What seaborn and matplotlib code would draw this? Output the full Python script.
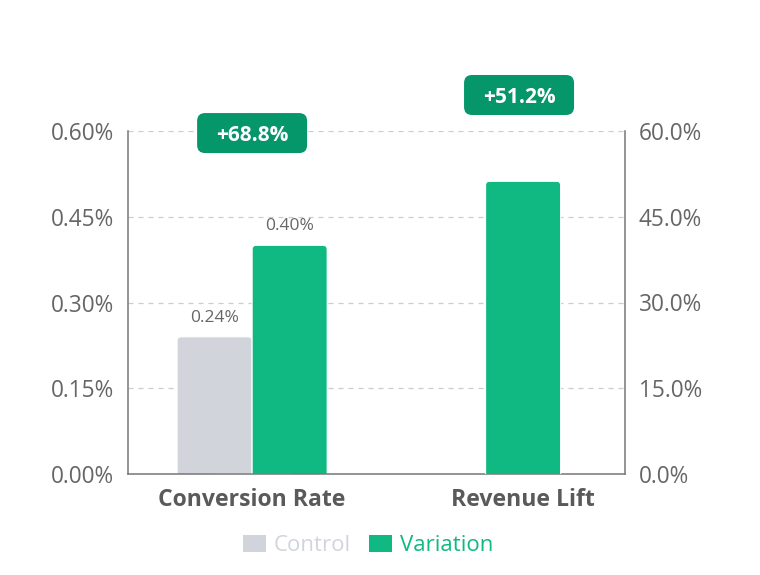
import matplotlib
matplotlib.use("Agg")
import matplotlib.pyplot as plt
from matplotlib.patches import Rectangle, FancyBboxPatch, Patch
from matplotlib.ticker import FuncFormatter, FixedLocator
from matplotlib.transforms import IdentityTransform
import seaborn as sns
import pandas as pd

# ---- data ----
categories = ["Conversion Rate", "Revenue Lift"]
groups = ["Control", "Variation"]
control_rate = [0.24, 0.0]        # % (left axis)
variation_rate = [0.40, 0.0]      # % (left axis)
revenue_lift = [0.0, 51.2]        # % (right axis)
rate_labels = ["0.24%", "0.40%"]
lift_badges = ["+68.8%", "+51.2%"]
left_ticks = [0.0, 0.15, 0.30, 0.45, 0.60]
right_ticks = [0.0, 15.0, 30.0, 45.0, 60.0]

GREY = "#d1d5db"
GREEN = "#10b981"
DARK_GREEN = "#059669"
TXT = "#666666"

sns.set_theme(style="white")
plt.rcParams["font.family"] = ["Open Sans", "DejaVu Sans"]

W, H = 760, 575
fig = plt.figure(figsize=(W / 100, H / 100), dpi=100)
ax = fig.add_axes([128 / W, 101 / H, 497 / W, 343 / H])
ax2 = ax.twinx()

df = pd.DataFrame({
    "category": categories * 2,
    "group": [groups[0]] * 2 + [groups[1]] * 2,
    "value": control_rate + variation_rate,
})
sns.barplot(data=df, x="category", y="value", hue="group", order=categories,
            hue_order=groups, palette=[GREY, GREEN], width=0.554, dodge=True,
            ax=ax, legend=False, edgecolor="white", linewidth=0.8, saturation=1)
sns.barplot(x=categories, y=revenue_lift, order=categories, color=GREEN,
            width=0.277, ax=ax2, edgecolor="white", linewidth=0.8, saturation=1)

xlim = (-0.458, 1.376)
ax.set_xlim(*xlim)
ax.set_ylim(0, 0.60)
ax2.set_ylim(0, 60)

# rounded top corners
def round_bars(a, ymax):
    rx = 4 * (xlim[1] - xlim[0]) / 497
    ry = 4 * ymax / 343
    for p in list(a.patches):
        if isinstance(p, Rectangle) and p.get_height() > 0:
            x, y, w, h = p.get_x(), p.get_y(), p.get_width(), p.get_height()
            fc = p.get_facecolor()
            p.remove()
            fb = FancyBboxPatch((x, y - ry), w, h + ry,
                                boxstyle=f"round,pad=0,rounding_size={rx}",
                                mutation_aspect=ry / rx, facecolor=fc,
                                edgecolor="white", linewidth=0.8, zorder=2)
            a.add_patch(fb)

round_bars(ax, 0.60)
round_bars(ax2, 60)

# grid
ax.yaxis.set_major_locator(FixedLocator(left_ticks))
ax2.yaxis.set_major_locator(FixedLocator(right_ticks))
ax.set_axisbelow(True)
ax.grid(axis="y", color="#cccccc", linestyle=(0, (4, 4)), linewidth=0.9)
ax.grid(axis="x", visible=False)
ax2.grid(False)

ax.yaxis.set_major_formatter(FuncFormatter(lambda v, p: f"{v:.2f}%"))
ax2.yaxis.set_major_formatter(FuncFormatter(lambda v, p: f"{v:.1f}%"))

for a in (ax, ax2):
    a.set_xlabel("")
    a.set_ylabel("")
    a.tick_params(axis="y", length=0, labelsize=16.3, labelcolor=TXT, pad=10)
    for s in a.spines.values():
        s.set_visible(False)

for a, side in ((ax, "left"), (ax2, "right"), (ax, "bottom")):
    a.spines[side].set_visible(True)
    a.spines[side].set_color("#777777")
    a.spines[side].set_linewidth(1.1)

ax.set_xticks(range(len(categories)))
ax.set_xticklabels(categories, fontsize=16.6, fontweight="bold", color="#5a5a5a")
ax.tick_params(axis="x", length=0, pad=10)
ax2.tick_params(axis="x", labelbottom=False, length=0)

# value labels above the rate bars
offsets = [-0.1385, 0.1385]
for off, val, lab in zip(offsets, [control_rate[0], variation_rate[0]], rate_labels):
    ax.annotate(lab, (0 + off, val), xytext=(0, 8), textcoords="offset points",
                ha="center", va="bottom", fontsize=12.5, color="#666666")

# lift badges (positioned relative to the category centres)
badge_pos = [(0.0, 0.994), (0.985, 1.105)]
trans = ax.get_xaxis_transform()
bw, bh = 110, 40
for (bx, by), lab in zip(badge_pos, lift_badges):
    cx, cy = trans.transform((bx, by))
    box = FancyBboxPatch((cx - bw / 2, cy - bh / 2), bw, bh,
                         boxstyle="round,pad=0,rounding_size=8",
                         facecolor=DARK_GREEN, edgecolor="none",
                         transform=IdentityTransform(), zorder=9)
    fig.patches.append(box)
    box.set_figure(fig)
    fig.text(cx, cy, lab, transform=IdentityTransform(), ha="center",
             va="center_baseline", fontsize=15, fontweight="bold",
             color="white", zorder=10)

# legend
handles = [Patch(facecolor=GREY, edgecolor="none"),
           Patch(facecolor=GREEN, edgecolor="none")]
fig.legend(handles, groups, loc="center", bbox_to_anchor=(0.484, 0.051),
           ncol=2, frameon=False, fontsize=16, handlelength=1.05,
           handleheight=0.8, handletextpad=0.35, columnspacing=0.8,
           labelcolor=[GREY, GREEN])

fig.savefig("out.png", dpi=100)
